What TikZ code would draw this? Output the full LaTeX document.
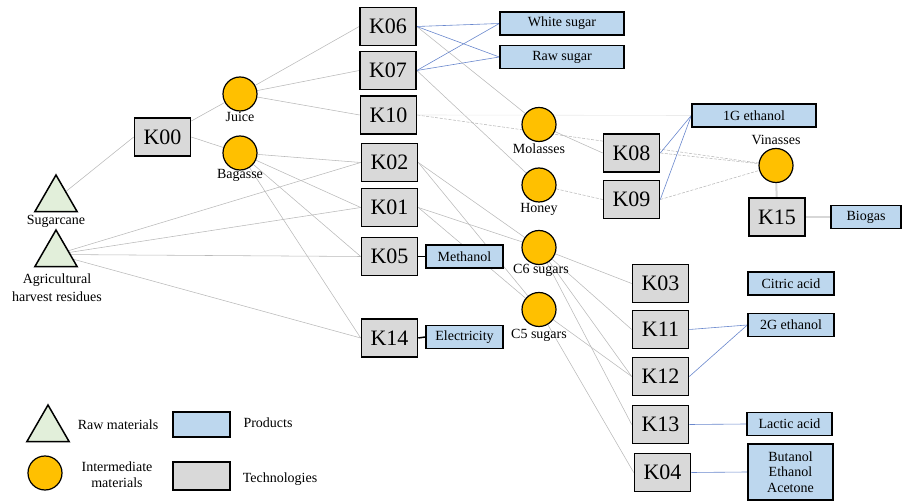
\documentclass[tikz,border=0pt]{standalone}
\usepackage{fontspec}
\setmainfont{Liberation Serif}
\newfontfamily\tnr{Liberation Serif}
\usetikzlibrary{shapes.geometric,backgrounds}
\definecolor{techfill}{HTML}{D9D9D9}
\definecolor{prodfill}{HTML}{BDD7EE}
\definecolor{interfill}{HTML}{FFC000}
\definecolor{rawfill}{HTML}{E2EFDA}
\definecolor{linegray}{RGB}{185,185,185}
\definecolor{lineblue}{RGB}{105,135,205}
\definecolor{thickgray}{RGB}{215,215,215}
\begin{document}
\begin{tikzpicture}[x=1pt,y=-1pt,
  tech/.style={draw,line width=1.6pt,fill=techfill,minimum width=56pt,minimum height=38pt,inner sep=0pt,font=\tnr\fontsize{22}{24}\selectfont},
  prod/.style={draw,line width=1.4pt,fill=prodfill,minimum height=23pt,inner sep=0pt,font=\tnr\fontsize{14}{16}\selectfont},
  inter/.style={circle,draw,line width=1.2pt,fill=interfill,minimum size=34pt,inner sep=0pt},
  raw/.style={regular polygon,regular polygon sides=3,draw,line width=1.5pt,fill=rawfill,minimum size=49pt,inner sep=0pt},
  lab/.style={font=\tnr\fontsize{14}{16}\selectfont,inner sep=0pt,align=center},
  gl/.style={draw=linegray,line width=0.55pt},
  gd/.style={draw=linegray,line width=0.55pt,dash pattern=on 3pt off 1.5pt},
  faint/.style={draw=black!8,line width=0.6pt},
  bl/.style={draw=lineblue,line width=0.6pt},
  heavyk/.style={draw=black,line width=1.5pt},
  heavyg/.style={draw=thickgray,line width=2pt}
]
\useasboundingbox (0,0) rectangle (903,502);

% raw materials
\node[raw] (sugar) at (56,199.5) {};
\node[lab] (sugarL) at (56,221) {Sugarcane};
\node[raw] (agri) at (56,254.5) {};
\node[lab,font=\tnr\fontsize{14}{18}\selectfont] (agriL) at (57,288) {Agricultural\\harvest residues};

% first stage
\node[tech] (k00) at (162.5,137) {K00};
\node[inter] (juice) at (240,94) {};
\node[lab] (juiceL) at (240,117) {Juice};
\node[inter] (bag) at (240,153) {};
\node[lab] (bagL) at (240,175) {Bagasse};

% technology column
\node[tech] (k06) at (388,26.5) {K06};
\node[tech] (k07) at (388,70.5) {K07};
\node[tech] (k10) at (388.5,115) {K10};
\node[tech] (k02) at (389.5,162.5) {K02};
\node[tech] (k01) at (389.5,207.5) {K01};
\node[tech] (k05) at (389.5,256.5) {K05};
\node[tech] (k14) at (389.5,338) {K14};

% products near column
\node[prod,minimum width=124pt] (ws) at (562,23.5) {White sugar};
\node[prod,minimum width=124pt] (rs) at (562,57) {Raw sugar};
\node[prod,minimum width=77pt] (meth) at (464.5,256.5) {Methanol};
\node[prod,minimum width=77pt] (elec) at (464.5,337) {Electricity};

% intermediates
\node[inter] (mol) at (539,124.5) {};
\node[lab] (molL) at (539,149) {Molasses};
\node[inter] (hon) at (539,185) {};
\node[lab] (honL) at (539,209) {Honey};
\node[inter] (c6) at (539,247.5) {};
\node[lab] (c6L) at (541,270) {C6 sugars};
\node[inter] (c5) at (539,309.5) {};
\node[lab] (c5L) at (539,335) {C5 sugars};

% right part
\node[tech] (k08) at (631.5,153) {K08};
\node[tech] (k09) at (631.5,199.5) {K09};
\node[prod,minimum width=124pt] (g1) at (754,115.5) {1G ethanol};
\node[inter] (vin) at (776,165.5) {};
\node[lab] (vinL) at (776,140) {Vinasses};
\node[tech] (k15) at (777,217) {K15};
\node[prod,minimum width=70pt] (bio) at (866,217) {Biogas};

\node[tech] (k03) at (660.5,283.5) {K03};
\node[tech] (k11) at (660.5,329.5) {K11};
\node[tech] (k12) at (660.5,376.5) {K12};
\node[tech] (k13) at (660.5,424.5) {K13};
\node[tech] (k04) at (662.5,472.5) {K04};
\node[prod,minimum width=86pt] (cit) at (791,283.5) {Citric acid};
\node[prod,minimum width=86pt] (g2) at (791,325) {2G ethanol};
\node[prod,minimum width=85pt] (lac) at (789.5,424) {Lactic acid};
\node[prod,minimum width=85pt,minimum height=56pt,align=center,font=\tnr\fontsize{14}{15.5}\selectfont] (but) at (790.5,472) {Butanol\\Ethanol\\Acetone};

% legend
\node[raw] (legraw) at (48,429.5) {};
\node[lab] (legrawL) at (118,425) {Raw materials};
\node[prod,minimum width=57pt,minimum height=25pt] (legprod) at (201.5,424.5) {};
\node[lab] (legprodL) at (268,423) {Products};
\node[inter] (leginter) at (45,473) {};
\node[lab] (leginterL) at (117,475) {Intermediate\\materials};
\node[tech,minimum width=57pt,minimum height=28pt] (legtech) at (201.5,476) {};
\node[lab] (legtechL) at (280,479) {Technologies};

\begin{scope}[on background layer]
  \draw[gl] (sugar) -- (k00.west);
  \draw[gl] (k00) -- (juice);
  \draw[gl] (k00.east) -- (bag);
  \draw[gl] (juice) -- (k06.west);
  \draw[gl] (juice) -- (k07.west);
  \draw[gl] (juice) -- (k10.west);
  \draw[gl] (bag) -- (k02.west);
  \draw[gl] (bag) -- (k01.west);
  \draw[gl] (bag) -- (k05.west);
  \draw[gl] (bag) -- (k14.west);
  \draw[gl] (agri) -- (k02.west);
  \draw[gl] (agri) -- (k01.west);
  \draw[gl] (agri) -- (k05.west);
  \draw[gl] (agri) -- (k14.west);
  \draw[gl] (k06.east) -- (mol);
  \draw[gl] (k07.east) -- (hon);
  \draw[gl] (mol) -- (k08.west);
  \draw[gl] (k02.east) -- (c6);
  \draw[gl] (k02.east) -- (c5);
  \draw[gl] (k01.east) -- (c6);
  \draw[gl] (k01.east) -- (c5);
  \draw[gl] (c6) -- (k03.west);
  \draw[gl] (c6) -- (k11.west);
  \draw[gl] (c6) -- (k12.west);
  \draw[gl] (c6) -- (k13.west);
  \draw[gl] (c5) -- (k12.west);
  \draw[gl] (c5) -- (k04.west);
  \draw[gd] (k10.east) -- (vin);
  \draw[gd] (k08.east) -- (vin);
  \draw[gd] (k09.east) -- (vin);
  \draw[gd] (hon) -- (k09.west);
  \draw[faint] (k10.east) -- (g1.west);
  \draw[bl] (k06.east) -- (ws.west);
  \draw[bl] (k06.east) -- (rs.west);
  \draw[bl] (k07.east) -- (ws.west);
  \draw[bl] (k07.east) -- (rs.west);
  \draw[bl] (k08.east) -- (g1.west);
  \draw[bl] (k09.east) -- (g1.west);
  \draw[bl] (k11.east) -- (g2.west);
  \draw[bl] (k12.east) -- (g2.west);
  \draw[bl] (k13.east) -- (lac.west);
  \draw[bl] (k04.east) -- (but.west);
  \draw[heavyk] (k05.east) -- (meth.west);
  \draw[heavyk] (k14.east) -- (elec.west);
  \draw[heavyg] (vin) -- (k15);
  \draw[heavyg] (k15) -- (bio);
\end{scope}
\end{tikzpicture}
\end{document}
